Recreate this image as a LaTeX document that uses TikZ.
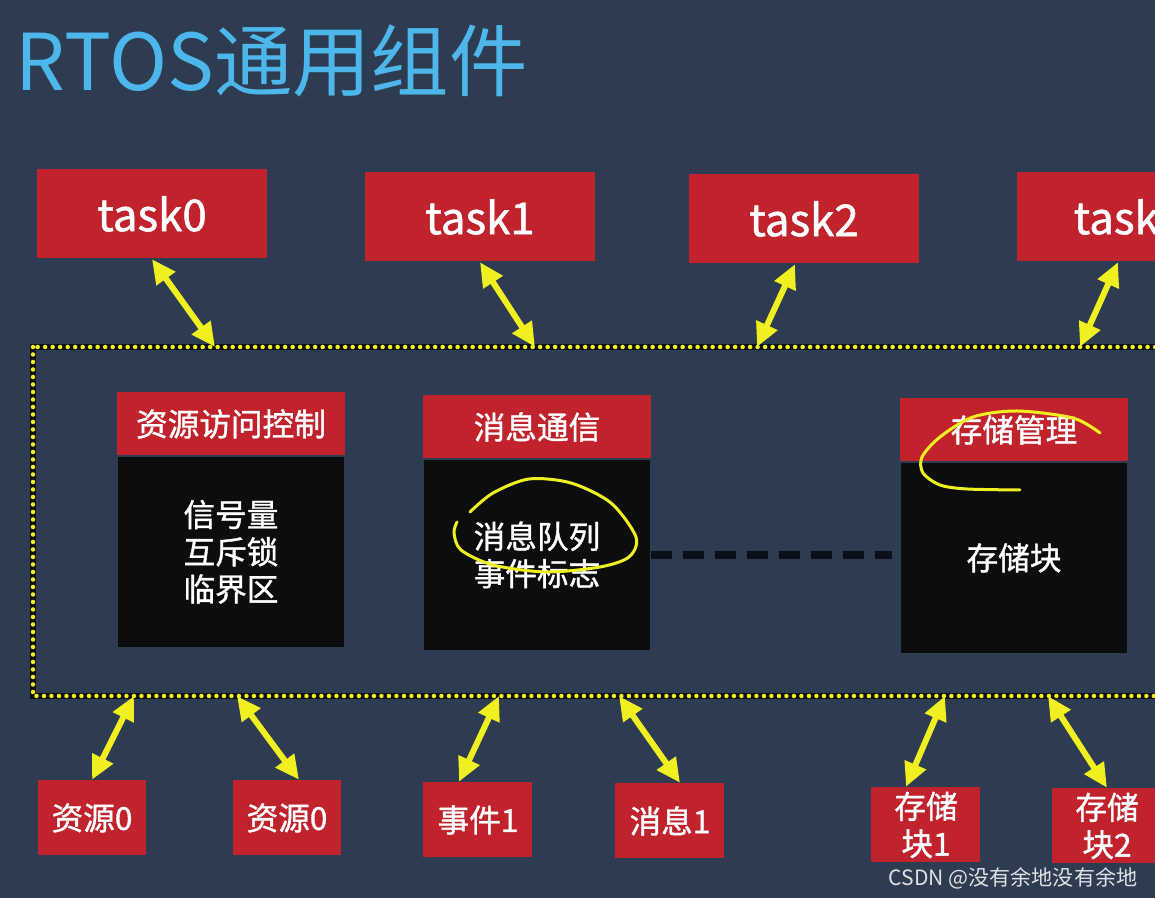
\documentclass[tikz,border=0pt]{standalone}
\usepackage{fontspec}
\setmainfont{Noto Sans CJK SC}
\newfontfamily\cjkbold{Noto Sans CJK SC}[FakeBold=1.2]
\usetikzlibrary{positioning,arrows.meta}
\definecolor{slide}{HTML}{2D3C50}
\definecolor{boxred}{HTML}{C1232D}
\definecolor{hilite}{HTML}{F0F020}
\definecolor{titleblue}{HTML}{4DB6EA}
\definecolor{dashdark}{HTML}{0B1018}
\newcommand{\boxtext}{\cjkbold\fontsize{9}{10.6}\selectfont}

\begin{document}
\begin{tikzpicture}[
  x=0.1mm, y=-0.1mm,
  node distance=0pt,
  taskbox/.style={fill=boxred, text=white, minimum width=2.3cm, minimum height=0.89cm, font=\cjkbold\fontsize{12.5}{15}\selectfont},
  head/.style={fill=boxred, text=white, minimum width=2.28cm, minimum height=0.63cm, font=\boxtext},
  body/.style={fill=black!95, text=white, minimum width=2.26cm, minimum height=1.9cm, align=center, font=\boxtext},
  item/.style={fill=boxred, text=white, minimum width=1.09cm, minimum height=0.75cm, align=center, inner sep=1pt, font=\boxtext},
  link/.style={hilite, line width=0.06cm, {Triangle[width=0.22cm,length=0.24cm]}-{Triangle[width=0.22cm,length=0.24cm]}},
  ink/.style={hilite, line width=0.03cm, line cap=round, line join=round}
]
\path[use as bounding box, fill=slide] (0,0) rectangle (1155,898);
\clip (0,0) rectangle (1155,898);

\node[anchor=base west, text=titleblue, font=\fontsize{22.3}{26}\selectfont, inner sep=0pt] (title) at (15,91) {RTOS通用组件};

\node[taskbox] (task0) at (152,214) {task0};
\node[taskbox] (task1) at (480,217) {task1};
\node[taskbox] (task2) at (804,219) {task2};
\node[taskbox, anchor=west, text width=1.66cm, inner xsep=0.57cm] (task3) at (1016,217) {task};

\draw[black!70!slide, line width=0.055cm] (33,347) rectangle (1190,696);
\draw[hilite, line width=0.045cm, line cap=round, dash pattern=on 0pt off 0.075cm] (33,347) rectangle (1190,696);
\coordinate (t0) at (215,347);
\coordinate (t1) at (535,347);
\coordinate (t2) at (757,347);
\coordinate (t3) at (1080,347);
\coordinate (b0) at (134,696);
\coordinate (b1) at (237,696);
\coordinate (b2) at (499,696);
\coordinate (b3) at (619,696);
\coordinate (b4) at (945,696);
\coordinate (b5) at (1048,696);

\node[head] (resctl) at (231,424) {资源访问控制};
\node[body, below=of resctl] (resctl-list) {信号量\\互斥锁\\临界区};
\node[head] (msgcomm) at (537,427) {消息通信};
\node[body, below=of msgcomm] (msgcomm-list) {消息队列\\事件标志};
\node[head] (memmgr) at (1014,430) {存储管理};
\node[body, below=of memmgr] (memmgr-list) {存储块};

\draw[dashdark, line width=0.08cm, dash pattern=on 0.21cm off 0.11cm, shorten >=0.08cm] (msgcomm-list.east) -- (msgcomm-list.east -| memmgr-list.west);

\node[item] (res0) at (92,818) {资源0};
\node[item] (res0b) at (287,818) {资源0};
\node[item] (evt1) at (478,820) {事件1};
\node[item] (msg1) at (670,821) {消息1};
\node[item] (blk1) at (926,825) {存储\\块1};
\node[item] (blk2) at (1107,826) {存储\\块2};

\draw[link] (task0.south) -- (t0);
\draw[link] (task1.south) -- (t1);
\draw[link] ([xshift=-0.09cm]task2.south) -- (t2);
\draw[link] ([xshift=1.02cm]task3.south west) -- (t3);
\draw[link] (b0) -- (res0.north);
\draw[link] (b1) -- ([xshift=0.12cm]res0b.north);
\draw[link] (b2) -- ([xshift=-0.19cm]evt1.north);
\draw[link] (b3) -- ([xshift=0.1cm]msg1.north);
\draw[link] (b4) -- ([xshift=-0.2cm]blk1.north);
\draw[link] (b5) -- (blk2.north);

\draw[ink] plot[smooth] coordinates {(470,512) (493,493) (529,479) (571,483) (611,503) (636,537) (629,557) (600,567) (546,572) (493,565) (461,550) (454,533) (457,522)};
\draw[ink] plot[smooth] coordinates {(1100,433) (1073,418) (1017,411) (973,417) (940,437) (922,457) (923,473) (940,485) (967,489) (1020,490)};

\node[anchor=east, text=white!85!slide, font=\fontsize{6}{7}\selectfont, inner sep=0pt] (mark) at (1138,878) {CSDN @没有余地没有余地};
\end{tikzpicture}
\end{document}
